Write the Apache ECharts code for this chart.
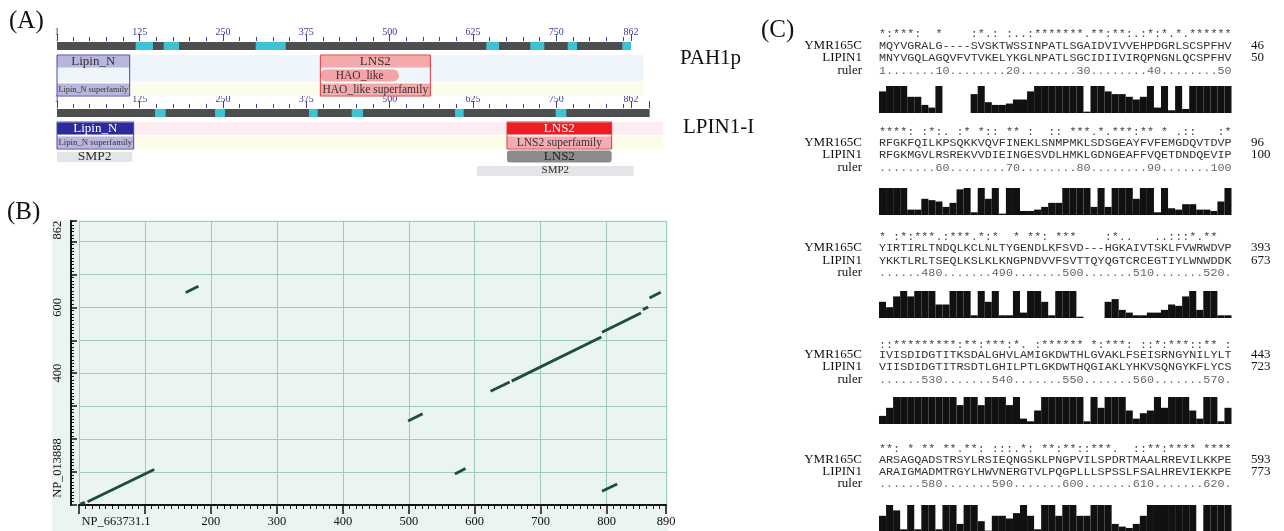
<!DOCTYPE html>
<html>
<head>
<meta charset="utf-8">
<title>PAH1p / LPIN1 comparison</title>
<script src="https://cdn.jsdelivr.net/npm/echarts@6/dist/echarts.min.js"></script>
<style>
  html, body { margin: 0; padding: 0; background: #fff; }
  #chart { width: 1284px; height: 531px; }
</style>
</head>
<body>
<div id="chart"></div>
<script>
// (A) domain architecture, residue numbers
const rulerLabels = [1, 125, 250, 375, 500, 625, 750, 862];
const pah1pLength = 862;
const lpin1Length = 890;
const pah1pMotifs = [[119, 145], [161, 184], [299, 344], [645, 664], [711, 732], [767, 781], [849, 862]];
const lpin1Motifs = [[148, 164], [238, 253], [379, 392], [443, 460], [598, 611], [749, 765]];
// name, from, to, row (1 specific, 2 non-specific / superfamily, 3+ multi-domain)
const pah1pHits = [
  ['Lipin_N', 1, 110, 1],
  ['Lipin_N superfamily', 1, 110, 3],
  ['LNS2', 396, 561, 1],
  ['HAO_like', 396, 514, 2],
  ['HAO_like superfamily', 396, 561, 3]
];
const lpin1Hits = [
  ['Lipin_N', 1, 116, 1],
  ['Lipin_N superfamily', 1, 116, 2],
  ['LNS2', 676, 833, 1],
  ['LNS2 superfamily', 676, 833, 2],
  ['LNS2', 676, 833, 3],
  ['SMP2', 1, 114, 3],
  ['SMP2', 631, 866, 4]
];

// (B) dot plot NP_663731.1 (x) against NP_013888 (y)
const dotXLabels = [0, 200, 300, 400, 500, 600, 700, 800, 890];
const dotYLabels = [0, 400, 600, 862];
// x1, y1, x2, y2
const dotSegments = [
  [2, 3, 9, 8],
  [13, 10, 114, 108],
  [162, 645, 181, 664],
  [499, 255, 521, 277],
  [570, 94, 586, 111],
  [793, 42, 816, 64],
  [624, 345, 653, 373],
  [656, 376, 792, 510],
  [793, 524, 852, 583],
  [855, 593, 863, 601],
  [865, 628, 882, 646]
];

// (C) alignment blocks
const alnConsensus = [
  '*:***:  *    :*.: :..:*******.**:**:.:*:*.*.******',
  '****: :*:. :* *:: ** :  :: ***.*.***:** * .::   :*',
  '* :*:***.:***.*:*  * **: ***    :*..   ..:::*.**  ',
  '::*********:**:***:*. :****** *:***: ::*:***::** :',
  '**: * ** **.**: :::.*: **:**::***.  ::**:**** ****'
];
const alnYmr165c = [
  'MQYVGRALG----SVSKTWSSINPATLSGAIDVIVVEHPDGRLSCSPFHV',
  'RFGKFQILKPSQKKVQVFINEKLSNMPMKLSDSGEAYFVFEMGDQVTDVP',
  'YIRTIRLTNDQLKCLNLTYGENDLKFSVD---HGKAIVTSKLFVWRWDVP',
  'IVISDIDGTITKSDALGHVLAMIGKDWTHLGVAKLFSEISRNGYNILYLT',
  'ARSAGQADSTRSYLRSIEQNGSKLPNGPVILSPDRTMAALRREVILKKPE'
];
const alnLipin1 = [
  'MNYVGQLAGQVFVTVKELYKGLNPATLSGCIDIIVIRQPNGNLQCSPFHV',
  'RFGKMGVLRSREKVVDIEINGESVDLHMKLGDNGEAFFVQETDNDQEVIP',
  'YKKTLRLTSEQLKSLKLKNGPNDVVFSVTTQYQGTCRCEGTIYLWNWDDK',
  'VIISDIDGTITRSDTLGHILPTLGKDWTHQGIAKLYHKVSQNGYKFLYCS',
  'ARAIGMADMTRGYLHWVNERGTVLPQGPLLLSPSSLFSALHREVIEKKPE'
];
const alnRuler = [
  '1.......10........20........30........40........50',
  '........60........70........80........90.......100',
  '......480.......490.......500.......510.......520.',
  '......530.......540.......550.......560.......570.',
  '......580.......590.......600.......610.......620.'
];
const alnYmrEnds = [46, 96, 393, 443, 593];
const alnLipinEnds = [50, 100, 673, 723, 773];
const alnScores1 = [8, 10, 10, 10, 6, 6, 3, 2, 10, 0, 0, 0, 0, 7, 10, 4, 3, 3, 3.5, 5, 5, 8, 10, 10, 10, 10, 10, 10, 10, 0.5, 10, 10, 8, 7, 7, 6, 5, 6, 10, 2, 10, 1, 10, 1.5, 10, 10, 10, 10, 10, 10];
const alnScores2 = [10, 10, 10, 10, 2, 2, 6, 5.5, 5, 3, 4.5, 9.5, 10, 1, 10, 6, 10, 0.5, 10, 10, 1.5, 1.5, 2, 3, 4.5, 4.5, 10, 10, 10, 10, 3, 10, 3, 10, 10, 10, 6, 10, 10, 1, 10, 2.5, 2, 4, 4, 2, 2, 1.5, 5, 10];
const alnScores3 = [6, 4, 8, 10, 8, 10, 10, 10, 5, 5, 10, 10, 10, 1, 10, 6, 10, 1, 1, 10, 2, 10, 10, 6, 1, 10, 10, 10, 0.5, 0, 0, 0, 6, 7, 3, 2, 1, 1, 2, 2, 3, 5, 4.5, 8, 10, 3, 10, 10, 1, 1];
const alnScores4 = [3, 6, 10, 10, 10, 10, 10, 10, 10, 10, 10, 7, 10, 10, 7, 10, 10, 10, 7, 10, 2, 1, 5, 10, 10, 10, 10, 10, 10, 1, 10, 6, 10, 10, 10, 5, 2, 4, 5, 10, 6, 10, 10, 10, 5, 2, 10, 10, 1, 6];
const alnScores5 = [6, 10, 8, 1, 10, 1, 10, 10, 1, 10, 10, 3, 10, 10, 4, 0.5, 6, 6, 5, 7, 10, 6, 1, 10, 10, 6, 10, 10, 6, 6, 10, 10, 10, 3, 2, 1.5, 3, 6, 10, 10, 10, 10, 10, 10, 10, 0, 10, 10, 10, 10];
const alnScores = [alnScores1, alnScores2, alnScores3, alnScores4, alnScores5];

// ---------------------------------------------------------------
const serif = '"Liberation Serif", "DejaVu Serif", serif';
const mono = '"Liberation Mono", "DejaVu Sans Mono", monospace';
const rulerBlue = '#3b3b99';

const chart = echarts.init(document.getElementById('chart'));

// tracks of panel A share one residue scale
function every25(upTo) {
  const t = [];
  for (let v = 25; v < upTo; v += 25) if (v % 125) t.push(v);
  return t;
}

function buildTrack(length, motifs, hits, bands, bandEnd, boxRows) {
  const items = [];
  bands.forEach(b => items.push({ kind: 'band', color: b.color, from: 1, to: bandEnd, row: b.row, span: b.span }));
  items.push({ kind: 'backbone', from: 1, to: length, row: 0, span: 1 });
  motifs.forEach(m => items.push({ kind: 'motif', from: m[0], to: m[1], row: 0, span: 1 }));
  hits.forEach(h => items.push({ kind: 'hit', label: h[0], from: h[1], to: h[2], row: h[3], span: 1 }));
  hits.filter(h => h[3] === 1).forEach(h =>
    items.push({ kind: 'box', label: h[0], from: h[1], to: h[2], row: 1, span: boxRows }));
  return items;
}

function hitLook(track, it) {
  const lipin = it.label.indexOf('Lipin') === 0;
  if (track === 'lpin1' && it.row >= 3) {
    if (it.label === 'SMP2') return { fill: '#e4e5e8', text: '#2a2a2a', inset: 2, r: 0, size: it.row === 4 ? 11 : 13.5 };
    return { fill: '#8b8b8b', text: '#1e1e1e', inset: 0.5, r: 3, size: 13 };
  }
  if (track === 'pah1p') {
    if (it.row === 2) return { fill: '#f3a4a6', text: '#4a2a2a', inset: 0.5, r: 6, size: 11.5 };
    return { fill: lipin ? '#b9b5de' : '#f4aaab', text: '#333', inset: 0.5, r: 0, size: it.row === 1 ? 13 : 11.5 };
  }
  if (it.row === 1) return { fill: lipin ? '#2b2b9b' : '#ee1c25', text: '#fff', inset: 0.5, r: 0, size: 13 };
  return { fill: lipin ? '#bab6e0' : '#f5abb1', text: '#333', inset: 0.5, r: 0, size: 11.5 };
}

function renderTrack(track, items) {
  return function (params, api) {
    const it = items[params.dataIndex];
    const a = api.coord([it.from, it.row]);
    const b = api.coord([it.to, it.row + it.span]);
    const x = a[0], w = b[0] - a[0], top = a[1], h = b[1] - a[1];
    if (it.kind === 'band') {
      return { type: 'rect', shape: { x: x, y: top, width: w, height: h - 1 }, style: { fill: it.color } };
    }
    if (it.kind === 'backbone' || it.kind === 'motif') {
      return { type: 'rect', shape: { x: x, y: top + 1, width: w, height: 8 },
        style: { fill: it.kind === 'backbone' ? '#4c4e4f' : '#3fc3d3' } };
    }
    if (it.kind === 'box') {
      const lipin = it.label.indexOf('Lipin') === 0;
      return { type: 'rect', shape: { x: x, y: top, width: w, height: h - 1 },
        style: { fill: null, stroke: lipin ? '#4848aa' : '#e2363d', lineWidth: 1 } };
    }
    const look = hitLook(track, it);
    const size = Math.min(look.size, w / (it.label.length * 0.46));
    return {
      type: 'group',
      children: [
        { type: 'rect', shape: { x: x, y: top + look.inset, width: w, height: h - 1 - 2 * look.inset + (look.inset > 1 ? 1 : 0), r: look.r },
          style: { fill: look.fill } },
        { type: 'text', x: x + w / 2, y: top + (h - 1) / 2,
          style: { text: it.label, fill: look.text, font: size + 'px ' + serif, textAlign: 'center', textVerticalAlign: 'middle' } }
      ]
    };
  };
}

const pah1pItems = buildTrack(pah1pLength, pah1pMotifs, pah1pHits,
  [{ row: 1, span: 2, color: '#eef6fc' }, { row: 3, span: 1, color: '#fcfcec' }], 881, 3);
const lpin1Items = buildTrack(lpin1Length, lpin1Motifs, lpin1Hits,
  [{ row: 1, span: 1, color: '#fdedf1' }, { row: 2, span: 1, color: '#fcfcea' }], 910, 2);

function rulerAxes(gridIndex, majorTicks, minorTicks) {
  const base = { gridIndex: gridIndex, type: 'value', min: 1, max: 910, position: 'top',
    axisLine: { show: false }, splitLine: { show: false } };
  return [
    Object.assign({}, base, {
      axisTick: { show: true, customValues: majorTicks, length: 7, lineStyle: { color: rulerBlue, width: 1 } },
      axisLabel: { show: true, customValues: rulerLabels, margin: 4, color: rulerBlue, fontFamily: serif, fontSize: 10 }
    }),
    Object.assign({}, base, {
      axisTick: { show: true, customValues: minorTicks, length: 4, lineStyle: { color: rulerBlue, width: 1 } },
      axisLabel: { show: false }
    })
  ];
}

// panel C layout
const blockStarY = [32, 130, 235, 343, 447];
const blockYmrY = [46, 143, 248, 355, 460];
const blockLipY = [58, 155, 261, 367, 472];
const blockRulerY = [71, 168, 273, 380, 484];
const blockBarTop = [86, 188, 291, 397, 505];
const alnColumns = alnYmr165c[0].split('').map((c, i) => String(i + 1));

const grids = [
  { left: 57, top: 41, width: 606, height: 56 },
  { left: 57, top: 108, width: 606, height: 70 },
  { left: 79, top: 221, width: 587, height: 284 }
];
blockBarTop.forEach(t => grids.push({ left: 879, top: t, width: 352.5, height: 27 }));
grids.forEach(g => { g.containLabel = false; g.outerBoundsMode = 'none'; });

const xAxes = []
  .concat(rulerAxes(0, rulerLabels, every25(pah1pLength)))
  .concat(rulerAxes(1, rulerLabels.concat([lpin1Length]), every25(lpin1Length)));
xAxes.push({
  gridIndex: 2, type: 'value', min: 0, max: 890, interval: 100,
  axisLine: { show: true, onZero: false, lineStyle: { color: '#111', width: 2 } },
  axisTick: { show: true, length: 9, lineStyle: { color: '#111', width: 1.5 } },
  minorTick: { show: true, splitNumber: 10, length: 4, lineStyle: { color: '#111', width: 1 } },
  splitLine: { show: true, lineStyle: { color: '#9fcbbc', width: 1 } },
  axisLabel: {
    customValues: dotXLabels, margin: 10, color: '#111', fontFamily: serif, fontSize: 12.5,
    formatter: v => v === 0 ? '{nm|NP_663731.1}' : String(v),
    rich: { nm: { padding: [0, 0, 0, 74], fontFamily: serif, fontSize: 12.5, color: '#111' } }
  }
});
blockBarTop.forEach((t, k) => xAxes.push({ gridIndex: 3 + k, type: 'category', data: alnColumns, show: false }));

const yAxes = [
  { gridIndex: 0, type: 'value', min: 0, max: 4, inverse: true, show: false },
  { gridIndex: 1, type: 'value', min: 0, max: 5, inverse: true, show: false },
  {
    gridIndex: 2, type: 'value', min: 0, max: 862, interval: 100, offset: 8,
    axisLine: { show: true, onZero: false, lineStyle: { color: '#111', width: 2 } },
    axisTick: { show: true, inside: true, length: 6, lineStyle: { color: '#111', width: 1.5 } },
    minorTick: { show: true, splitNumber: 10, length: 3, lineStyle: { color: '#111', width: 1 } },
    splitLine: { show: true, lineStyle: { color: '#9fcbbc', width: 1 } },
    axisLabel: {
      customValues: dotYLabels, rotate: 90, margin: 7, color: '#111', fontFamily: serif, fontSize: 12.5,
      formatter: v => v === 0 ? '{nm|NP_013888}' : (v === 862 ? '{tp|862}' : String(v)),
      rich: {
        nm: { padding: [0, 0, 0, 74], fontFamily: serif, fontSize: 12.5, color: '#111' },
        tp: { padding: [0, 18, 0, 0], fontFamily: serif, fontSize: 12.5, color: '#111' }
      }
    }
  }
];
blockBarTop.forEach((t, k) => yAxes.push({ gridIndex: 3 + k, type: 'value', min: 0, max: 10, show: false }));

const series = [
  {
    type: 'custom', name: 'PAH1p', coordinateSystem: 'cartesian2d', xAxisIndex: 0, yAxisIndex: 0,
    silent: true, clip: false,
    data: pah1pItems.map(it => [it.from, it.to, it.row, it.span]),
    encode: { x: [0, 1], y: 2 },
    renderItem: renderTrack('pah1p', pah1pItems)
  },
  {
    type: 'custom', name: 'LPIN1-I', coordinateSystem: 'cartesian2d', xAxisIndex: 2, yAxisIndex: 1,
    silent: true, clip: false,
    data: lpin1Items.map(it => [it.from, it.to, it.row, it.span]),
    encode: { x: [0, 1], y: 2 },
    renderItem: renderTrack('lpin1', lpin1Items)
  },
  {
    type: 'lines', coordinateSystem: 'cartesian2d', xAxisIndex: 4, yAxisIndex: 2, silent: true,
    data: dotSegments.map(s => ({ coords: [[s[0], s[1]], [s[2], s[3]]] })),
    lineStyle: { color: '#1d4d3b', width: 2.8, opacity: 1, curveness: 0 }
  }
];
alnScores.forEach((scores, k) => series.push({
  type: 'bar', xAxisIndex: 5 + k, yAxisIndex: 3 + k, data: scores, silent: true,
  barCategoryGap: '0%',
  itemStyle: { color: '#111', borderWidth: 0 }
}));

// texts
const graphics = [
  { type: 'rect', z: -10, silent: true, shape: { x: 52, y: 220, width: 616, height: 311 }, style: { fill: '#e9f5ee' } }
];
function addText(text, x, y, font, fill, align) {
  graphics.push({ type: 'text', x: x, y: y, silent: true,
    style: { text: text, font: font, fill: fill || '#111', textAlign: align || 'left', textVerticalAlign: 'middle' } });
}
addText('(A)', 9, 21, '25px ' + serif);
addText('(B)', 7, 212, '25px ' + serif);
addText('(C)', 761, 30, '25px ' + serif);
addText('PAH1p', 680, 58, '21px ' + serif);
addText('LPIN1-I', 683, 127, '21px ' + serif);

const seqFont = '11.75px ' + mono;
const nameFont = '13px ' + serif;
for (let k = 0; k < 5; k++) {
  addText(alnConsensus[k], 879, blockStarY[k] + 2, seqFont, '#444');
  addText(alnYmr165c[k], 879, blockYmrY[k], seqFont, '#333');
  addText(alnLipin1[k], 879, blockLipY[k], seqFont, '#333');
  addText(alnRuler[k], 879, blockRulerY[k], seqFont, '#666');
  addText('YMR165C', 862, blockYmrY[k], nameFont, '#111', 'right');
  addText('LIPIN1', 862, blockLipY[k], nameFont, '#111', 'right');
  addText('ruler', 862, blockRulerY[k], nameFont, '#111', 'right');
  addText(String(alnYmrEnds[k]), 1251, blockYmrY[k], nameFont);
  addText(String(alnLipinEnds[k]), 1251, blockLipY[k], nameFont);
}

chart.setOption({
  animation: false,
  backgroundColor: '#fff',
  textStyle: { fontFamily: serif },
  grid: grids,
  xAxis: xAxes,
  yAxis: yAxes,
  series: series,
  graphic: { elements: graphics }
});

window.addEventListener('resize', () => chart.resize());
</script>
</body>
</html>
